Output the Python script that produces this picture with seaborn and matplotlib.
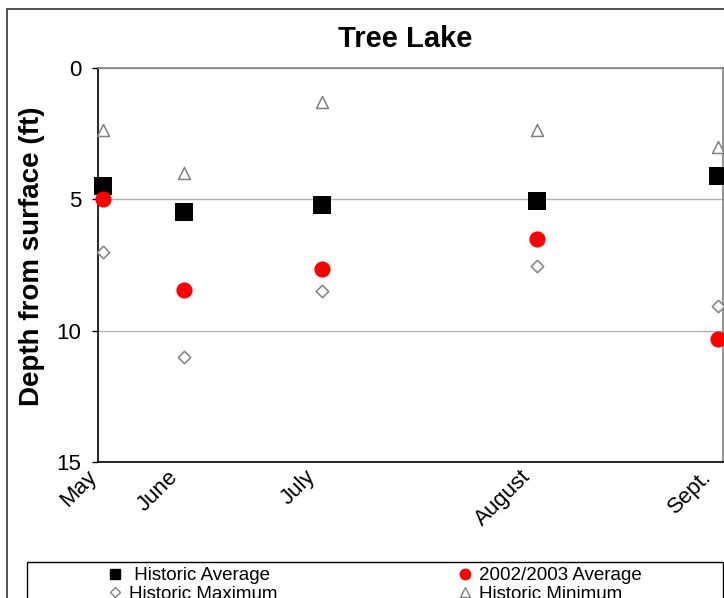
import matplotlib
matplotlib.use('Agg')
import matplotlib.pyplot as plt
from matplotlib.lines import Line2D
from matplotlib.patches import Rectangle
from matplotlib.transforms import ScaledTranslation
import seaborn as sns
import pandas as pd

# ── Данные (глубина от поверхности, ft) ──────────────────────────────────────
months        = ['May', 'June', 'July', 'August', 'Sept.']
sample_day    = [2, 32, 83, 163, 230]          # положение отбора на оси X
hist_average  = [4.5, 5.5, 5.2, 5.05, 4.1]
avg_2002_2003 = [5.0, 8.45, 7.65, 6.5, 10.3]
hist_maximum  = [7.0, 11.0, 8.5, 7.55, 9.05]
hist_minimum  = [2.35, 4.0, 1.3, 2.35, 3.0]

df = pd.DataFrame({
    'day': sample_day,
    'avg': hist_average,
    'avg0203': avg_2002_2003,
    'max': hist_maximum,
    'min': hist_minimum,
})

sns.set_style('white')
plt.rcParams['font.family'] = ['Liberation Sans', 'DejaVu Sans']
plt.rcParams.update({'text.color': 'black', 'axes.labelcolor': 'black',
                     'xtick.color': 'black', 'ytick.color': 'black'})

GRAY = '#808080'

fig = plt.figure(figsize=(7.24, 5.98), dpi=100)
ax = fig.add_axes([98 / 724, 1 - 462 / 598, 625 / 724, 394 / 598])

sns.scatterplot(data=df, x='day', y='min', marker='^', s=74, color='white',
                edgecolor=GRAY, linewidth=1.1, ax=ax, zorder=3, clip_on=False)
sns.scatterplot(data=df, x='day', y='max', marker='D', s=40, color='white',
                edgecolor=GRAY, linewidth=1.1, ax=ax, zorder=3, clip_on=False)
sns.scatterplot(data=df, x='day', y='avg', marker='s', s=150, color='black',
                edgecolor='black', linewidth=0, ax=ax, zorder=4, clip_on=False)
sns.scatterplot(data=df, x='day', y='avg0203', marker='o', s=135, color='red',
                edgecolor='red', linewidth=0, ax=ax, zorder=5, clip_on=False)

ax.set_xlim(0, 232)
ax.set_ylim(15, 0)
ax.set_yticks([0, 5, 10, 15])
ax.yaxis.grid(True, color='#b3b3b3', lw=1)
ax.set_axisbelow(True)

ax.set_xticks(sample_day)
ax.set_xticklabels(months, rotation=45, ha='right', va='top',
                   rotation_mode='anchor', fontsize=16)
ax.tick_params(axis='x', length=0, pad=6)
ax.tick_params(axis='y', direction='out', length=4, width=1, color='black',
               pad=8, labelsize=16, left=True)
# подписи месяцев чуть левее и выше, как в Excel
shift = ScaledTranslation(-0.17, 0.04, fig.dpi_scale_trans)
for lbl in ax.get_xticklabels():
    lbl.set_transform(lbl.get_transform() + shift)

for side in ['left', 'bottom']:
    ax.spines[side].set_color('black')
    ax.spines[side].set_linewidth(1.2)
for side in ['top', 'right']:
    ax.spines[side].set_color(GRAY)
    ax.spines[side].set_linewidth(1.2)

ax.set_xlabel('')
ax.set_ylabel('Depth from surface (ft)', fontsize=20, fontweight='bold')
ax.yaxis.set_label_coords(-0.085, 0.522)
ax.set_title('Tree Lake', fontsize=21, fontweight='bold', pad=15, x=0.491)

# ── Рамки (обрезаны справа и снизу, как на исходнике) ────────────────────────
fig.patches.append(Rectangle((7 / 724, -0.2), 1.2, 1.2 - 9 / 598,
                             transform=fig.transFigure, fill=False,
                             edgecolor='#333333', lw=1.2))
fig.patches.append(Rectangle((27 / 724, -0.2), (723 - 27) / 724, 0.2 + 1 - 562 / 598,
                             transform=fig.transFigure, fill=False,
                             edgecolor='black', lw=1))

# ── Легенда в две колонки ────────────────────────────────────────────────────
h_avg = Line2D([], [], ls='', marker='s', ms=7, color='black')
h_max = Line2D([], [], ls='', marker='D', ms=5, mfc='white', mec=GRAY, mew=1)
h_0203 = Line2D([], [], ls='', marker='o', ms=7.5, color='red')
h_min = Line2D([], [], ls='', marker='^', ms=6.5, mfc='white', mec=GRAY, mew=1)

leg_kw = dict(loc='upper left', frameon=False, fontsize=13.5, borderpad=0,
              borderaxespad=0, handlelength=0.8, handletextpad=0.35,
              labelspacing=0.08)
fig.legend([h_avg, h_max], [' Historic Average', 'Historic Maximum'],
           bbox_to_anchor=(107 / 724, 1 - 567 / 598), **leg_kw)
fig.legend([h_0203, h_min], ['2002/2003 Average', 'Historic Minimum'],
           bbox_to_anchor=(457 / 724, 1 - 567 / 598), **leg_kw)

plt.savefig('out.png', dpi=100)
